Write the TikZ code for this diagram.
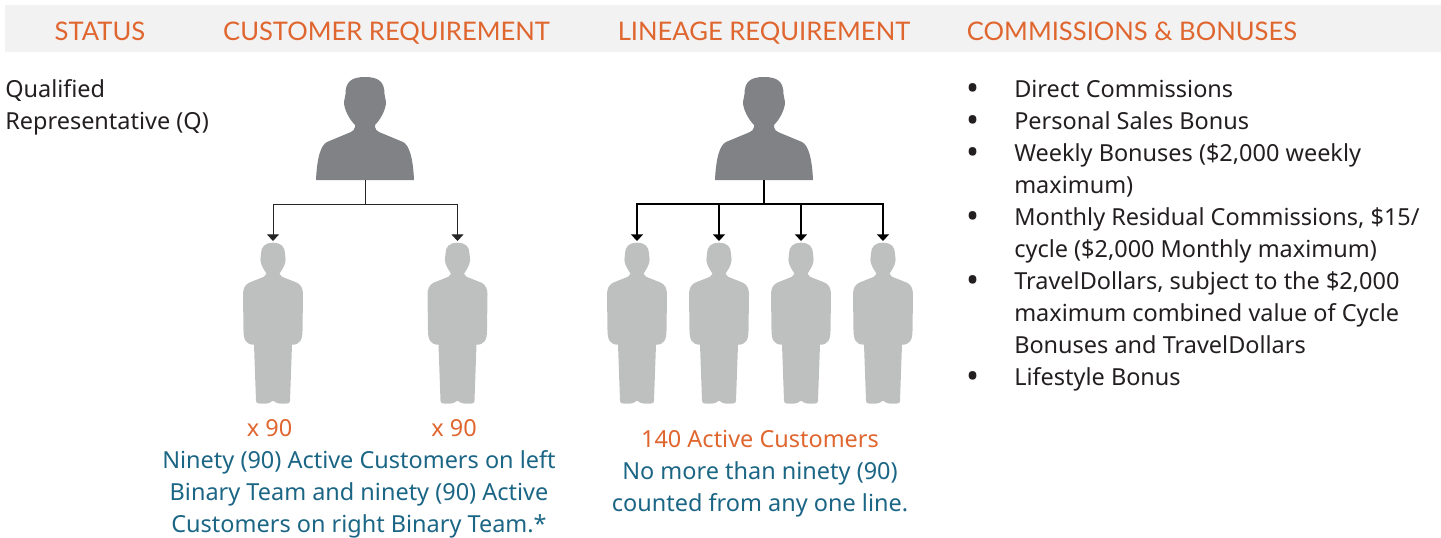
\documentclass[tikz,border=0pt]{standalone}
\usepackage{fontspec}
\setmainfont{Noto Sans}
\newfontfamily\headfont{Lato}
\usetikzlibrary{arrows.meta}
\definecolor{band}{HTML}{F2F2F2}
\definecolor{headorange}{HTML}{E0662F}
\definecolor{bodytext}{HTML}{231F20}
\definecolor{tealtext}{HTML}{1B6585}
\definecolor{bustgrey}{HTML}{808285}
\definecolor{figgrey}{HTML}{BEC0BF}
\begin{document}
\begin{tikzpicture}[
        x=0.75pt, y=-0.75pt,
        every node/.style={inner sep=0pt},
        header/.style={font=\headfont\fontsize{19.2}{24}\selectfont, text=headorange, anchor=base},
        body/.style={font=\fontsize{17.6}{24}\selectfont, text=bodytext, align=left, anchor=base west},
        orange/.style={font=\fontsize{17.6}{24}\selectfont, text=headorange, align=center, anchor=base},
        teal/.style={font=\fontsize{17.6}{24}\selectfont, text=tealtext, align=center, anchor=base},
        dot/.style={font=\fontsize{26}{24}\selectfont, text=bodytext, anchor=base, yshift=-2.25pt},
        thinline/.style={draw=black!85, line width=0.75pt},
        thickline/.style={draw=black, line width=1.15pt},
        arrow/.style={->, >={Triangle[width=9pt,length=5pt]}},
        bust/.pic={
            \fill[bustgrey] (0,0) .. controls (14,0) and (19.5,5) .. (19.5,17) -- (21,25)
                .. controls (21,33) and (15,43) .. (10,48) -- (10,50) .. controls (11,53) .. (14,55)
                -- (38,65) .. controls (44,68) and (48,80) .. (49,103) -- (-49,103)
                .. controls (-48,80) and (-44,68) .. (-38,65) -- (-14,55)
                .. controls (-11,53) .. (-10,50) -- (-10,48) .. controls (-15,43) and (-21,33) .. (-21,25)
                -- (-19.5,17) .. controls (-19.5,5) and (-14,0) .. (0,0) -- cycle;
        },
        figure/.pic={
            \fill[figgrey] (0,0) .. controls (8,0) and (12,4) .. (12,11) -- (12.6,17)
                .. controls (12.6,22) and (9,27) .. (6.5,31) .. controls (7,33) .. (9,34)
                -- (24,40) .. controls (28,42) and (30,46) .. (30,52) -- (29.5,88)
                .. controls (29.5,97) and (27,102) .. (19,102) -- (17,158)
                .. controls (17,161) and (14,161) .. (10,161) .. controls (5,161) and (2,160) .. (0,158)
                .. controls (-2,160) and (-5,161) .. (-10,161) .. controls (-14,161) and (-17,161) .. (-17,158)
                -- (-19,102) .. controls (-27,102) and (-29.5,97) .. (-29.5,88) -- (-30,52)
                .. controls (-30,46) and (-28,42) .. (-24,40) -- (-9,34) .. controls (-7,33) .. (-6.5,31)
                .. controls (-9,27) and (-12.6,22) .. (-12.6,17) -- (-12,11) .. controls (-12,4) and (-8,0) .. (0,0) -- cycle;
        }
    ]
        \useasboundingbox (0,0) rectangle (1441,537);
        \fill[band] (5,5) rectangle (1441,52);

        \node (status) [header] at (100,40) {STATUS};
        \node (custhead) [header] at (386.5,40) {CUSTOMER REQUIREMENT};
        \node (linehead) [header] at (764,40) {LINEAGE REQUIREMENT};
        \node (commhead) [header] at (1132,40) {COMMISSIONS \& BONUSES};

        \node (qualified) [body] at (5,129) {Qualified\\Representative (Q)};

        \pic at (365,77) {bust};
        \pic at (764,77) {bust};
        \pic at (273,242.7) {figure};
        \pic at (457.5,242.7) {figure};
        \pic at (637,242.7) {figure};
        \pic at (719,242.7) {figure};
        \pic at (801,242.7) {figure};
        \pic at (883,242.7) {figure};

        \coordinate (custboss) at (365,180);
        \coordinate (custjoin) at (365,204);
        \coordinate (custleft) at (273,241);
        \coordinate (custright) at (457.5,241);
        \coordinate (lineboss) at (764,180);
        \coordinate (linejoin) at (764,204);
        \coordinate (lineone) at (637,241);
        \coordinate (linetwo) at (719,241);
        \coordinate (linethree) at (801,241);
        \coordinate (linefour) at (883,241);

        \draw[thinline] (custboss) -- (custjoin);
        \draw[thinline, arrow] (custjoin) -| (custleft);
        \draw[thinline, arrow] (custjoin) -| (custright);
        \draw[thickline] (lineboss) -- (linejoin);
        \draw[thickline, arrow] (linejoin) -| (lineone);
        \draw[thickline, arrow] (linejoin) -| (linetwo);
        \draw[thickline, arrow] (linejoin) -| (linethree);
        \draw[thickline, arrow] (linejoin) -| (linefour);

        \node (custx) [orange] at (269.5,436) {x 90};
        \node (custy) [orange] at (454,436) {x 90};
        \node (custnote) [teal] at (359,532) {Ninety (90) Active Customers on left\\Binary Team and ninety (90) Active\\Customers on right Binary Team.*};
        \node (linecount) [orange] at (760,447) {140 Active Customers};
        \node (linenote) [teal] at (760,511) {No more than ninety (90)\\counted from any one line.};

        \node (dot1) [dot] at (973,97) {•};
        \node (dot2) [dot] at (973,129) {•};
        \node (dot3) [dot] at (973,161) {•};
        \node (dot4) [dot] at (973,225) {•};
        \node (dot5) [dot] at (973,289) {•};
        \node (dot6) [dot] at (973,385) {•};
        \node (item1) [body] at (1014,97) {Direct Commissions};
        \node (item2) [body] at (1014,129) {Personal Sales Bonus};
        \node (item3) [body] at (1014,193) {Weekly Bonuses (\$2,000 weekly\\maximum)};
        \node (item4) [body] at (1014,257) {Monthly Residual Commissions, \$15/\\cycle (\$2,000 Monthly maximum)};
        \node (item5) [body] at (1014,353) {TravelDollars, subject to the \$2,000\\maximum combined value of Cycle\\Bonuses and TravelDollars};
        \node (item6) [body] at (1014,385) {Lifestyle Bonus};
    \end{tikzpicture}
\end{document}
